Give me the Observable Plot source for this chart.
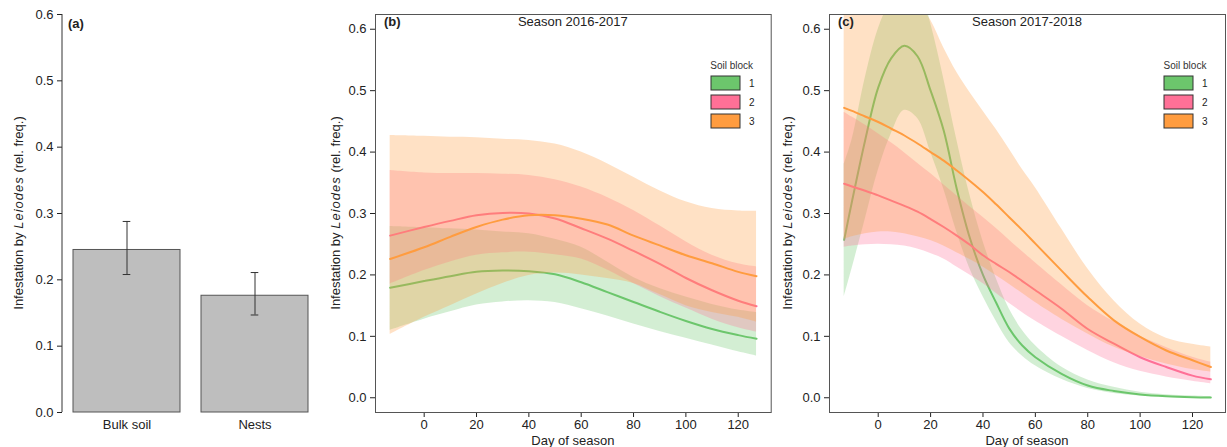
<!DOCTYPE html>
<html>
<head>
<meta charset="utf-8">
<script src="https://cdn.jsdelivr.net/npm/d3@7"></script>
<script src="https://cdn.jsdelivr.net/npm/@observablehq/plot@0.6"></script>
<style>
  html, body { margin: 0; padding: 0; background: #fff; }
  #wrap { position: relative; width: 1227px; height: 447px; overflow: hidden; font-family: "Liberation Sans", Arial, sans-serif; }
  .panel { position: absolute; top: 0; }
  .panel svg { overflow: visible; }
</style>
</head>
<body>
<div id="wrap">
  <div class="panel" id="pa" style="left:0px"></div>
  <div class="panel" id="pb" style="left:320px"></div>
  <div class="panel" id="pc" style="left:775px"></div>
</div>
<script>
// ---------------- data ----------------
const barCategories = ["Bulk soil", "Nests"];
const barMeans = [0.245, 0.176];
const barLower = [0.208, 0.147];
const barUpper = [0.288, 0.211];

const yTicks = [0, 0.1, 0.2, 0.3, 0.4, 0.5, 0.6];
const dayTicks = [0, 20, 40, 60, 80, 100, 120];
const blocks = ["1", "2", "3"];
const blockColors = ["#6cc66c", "#ff7097", "#ff9c3f"];

const panelTitles = ["Season 2016-2017", "Season 2017-2018"];
const panelLetters = ["(a)", "(b)", "(c)"];

// Season 2016-2017
const daysB = [-13, 0, 10, 20, 30, 40, 50, 60, 70, 80, 90, 100, 110, 120, 127];
const b1Fit = [0.179, 0.190, 0.198, 0.205, 0.207, 0.206, 0.201, 0.188, 0.172, 0.156, 0.140, 0.125, 0.112, 0.102, 0.096];
const b1Lo  = [0.110, 0.128, 0.140, 0.151, 0.156, 0.158, 0.155, 0.145, 0.133, 0.120, 0.108, 0.097, 0.086, 0.075, 0.068];
const b1Hi  = [0.279, 0.277, 0.275, 0.273, 0.270, 0.267, 0.258, 0.245, 0.221, 0.196, 0.178, 0.164, 0.152, 0.143, 0.139];
const b2Fit = [0.264, 0.278, 0.288, 0.297, 0.301, 0.300, 0.292, 0.276, 0.259, 0.239, 0.218, 0.195, 0.175, 0.158, 0.149];
const b2Lo  = [0.185, 0.207, 0.221, 0.232, 0.236, 0.237, 0.233, 0.226, 0.208, 0.186, 0.165, 0.146, 0.128, 0.114, 0.107];
const b2Hi  = [0.370, 0.366, 0.365, 0.365, 0.364, 0.362, 0.355, 0.343, 0.326, 0.305, 0.280, 0.254, 0.232, 0.218, 0.213];
const b3Fit = [0.226, 0.245, 0.262, 0.278, 0.290, 0.297, 0.297, 0.2915, 0.282, 0.264, 0.248, 0.232, 0.219, 0.205, 0.198];
const b3Lo  = [0.103, 0.131, 0.150, 0.169, 0.186, 0.199, 0.203, 0.200, 0.194, 0.186, 0.168, 0.150, 0.139, 0.131, 0.123];
const b3Hi  = [0.427, 0.4256, 0.424, 0.4235, 0.421, 0.419, 0.413, 0.400, 0.381, 0.359, 0.337, 0.319, 0.308, 0.304, 0.3035];

// Season 2017-2018
const daysC = [-13, -10, -5, 0, 5, 10, 15, 20, 25, 30, 35, 40, 45, 50, 55, 60, 70, 80, 90, 100, 110, 120, 127];
const c1Fit = [0.257, 0.320, 0.419, 0.505, 0.553, 0.573, 0.556, 0.500, 0.435, 0.340, 0.260, 0.200, 0.155, 0.113, 0.085, 0.066, 0.039, 0.020, 0.011, 0.0054, 0.0025, 0.0010, 0.0005];
const c1Lo  = [0.164, 0.210, 0.290, 0.370, 0.430, 0.468, 0.455, 0.400, 0.340, 0.270, 0.210, 0.165, 0.125, 0.090, 0.068, 0.052, 0.030, 0.015, 0.007, 0.003, 0.0015, 0.0007, 0.0004];
const c1Hi  = [0.380, 0.420, 0.520, 0.600, 0.650, 0.690, 0.680, 0.610, 0.520, 0.420, 0.330, 0.255, 0.195, 0.145, 0.110, 0.085, 0.050, 0.029, 0.017, 0.009, 0.005, 0.003, 0.002];
const c2Fit = [0.3485, 0.344, 0.337, 0.3295, 0.321, 0.3125, 0.303, 0.291, 0.278, 0.264, 0.249, 0.232, 0.218, 0.2047, 0.190, 0.175, 0.145, 0.112, 0.088, 0.066, 0.050, 0.036, 0.030];
const c2Lo  = [0.245, 0.247, 0.249, 0.250, 0.249, 0.247, 0.242, 0.235, 0.226, 0.213, 0.200, 0.186, 0.170, 0.154, 0.139, 0.125, 0.100, 0.077, 0.057, 0.043, 0.034, 0.027, 0.023];
const c2Hi  = [0.465, 0.457, 0.444, 0.430, 0.415, 0.399, 0.382, 0.365, 0.347, 0.329, 0.311, 0.294, 0.276, 0.257, 0.238, 0.220, 0.184, 0.150, 0.124, 0.100, 0.082, 0.066, 0.058];
const c3Fit = [0.472, 0.467, 0.458, 0.449, 0.438, 0.427, 0.414, 0.400, 0.386, 0.370, 0.353, 0.335, 0.315, 0.294, 0.273, 0.251, 0.207, 0.164, 0.126, 0.099, 0.077, 0.061, 0.050];
const c3Lo  = [0.258, 0.262, 0.267, 0.270, 0.270, 0.267, 0.262, 0.256, 0.247, 0.236, 0.225, 0.213, 0.199, 0.185, 0.170, 0.155, 0.128, 0.104, 0.0825, 0.067, 0.055, 0.046, 0.042];
const c3Hi  = [0.760, 0.750, 0.730, 0.710, 0.690, 0.670, 0.645, 0.615, 0.570, 0.530, 0.497, 0.467, 0.437, 0.405, 0.372, 0.342, 0.275, 0.210, 0.158, 0.120, 0.097, 0.087, 0.0825];

// ---------------- helpers ----------------
const rows = (days, fit, lo, hi) => days.map((d, i) => ({day: d, fit: fit[i], lo: lo[i], hi: hi[i]}));
const FONT = '"Liberation Sans", Arial, sans-serif';
const baseStyle = {fontFamily: FONT, fontSize: "13px", color: "#222", background: "transparent"};

function yTitle(svg, x, y) {
  const t = svg.append("text")
    .attr("transform", `translate(${x},${y}) rotate(-90)`)
    .attr("text-anchor", "middle").attr("dy", "0.35em")
    .attr("font-family", FONT).attr("font-size", 13).attr("fill", "#222")
    .style("white-space", "pre");
  t.append("tspan").text("Infestation by ");
  t.append("tspan").attr("font-style", "italic").attr("letter-spacing", "1").text("Leiodes");
  t.append("tspan").text(" (rel. freq.)");
}
function label(svg, x, y, txt, opts = {}) {
  return svg.append("text").attr("x", x).attr("y", y)
    .attr("font-family", FONT).attr("font-size", opts.size || 13)
    .attr("font-weight", opts.bold ? "bold" : "normal")
    .attr("text-anchor", opts.anchor || "start")
    .attr("fill", opts.fill || "#222").text(txt);
}
function legend(svg, boxX, titleX) {
  label(svg, titleX, 69, "Soil block", {size: 10, anchor: "middle", fill: "#333"});
  blocks.forEach((b, i) => {
    svg.append("rect").attr("x", boxX).attr("y", 76 + 19 * i).attr("width", 29).attr("height", 14)
      .attr("fill", blockColors[i]).attr("stroke", "#333").attr("stroke-width", 1);
    label(svg, boxX + 38, 76 + 19 * i + 11, b, {size: 10, anchor: "start", fill: "#222"});
  });
}

// ---------------- panel (a) ----------------
const barData = barCategories.map((c, i) => ({cat: c, mean: barMeans[i], lo: barLower[i], hi: barUpper[i]}));
const pa = Plot.plot({
  width: 330, height: 447,
  marginLeft: 62, marginRight: 11, marginTop: 14, marginBottom: 35,
  style: baseStyle,
  x: {type: "band", domain: barCategories, paddingInner: 0.1667, paddingOuter: 0.08, tickSize: 0, tickPadding: 7, label: null},
  y: {domain: [0, 0.6], ticks: yTicks, tickFormat: d3.format(".1f"), tickSize: 5, tickPadding: 4, label: null},
  marks: [
    Plot.barY(barData, {x: "cat", y: "mean", fill: "#bebebe", stroke: "#555", strokeWidth: 1}),
    Plot.ruleX(barData, {x: "cat", y1: "lo", y2: "hi", stroke: "#333", strokeWidth: 1}),
    Plot.tickY(barData, {x: "cat", y: "lo", stroke: "#333", insetLeft: 49.7, insetRight: 49.7}),
    Plot.tickY(barData, {x: "cat", y: "hi", stroke: "#333", insetLeft: 49.7, insetRight: 49.7})
  ]
});
document.getElementById("pa").appendChild(pa);
{
  const svg = d3.select(pa);
  const ys = pa.scale("y");
  svg.append("line").attr("x1", 62).attr("x2", 62)
    .attr("y1", ys.apply(0)).attr("y2", ys.apply(0.6)).attr("stroke", "#333");
  yTitle(svg, 18, 213);
  label(svg, 68, 28, panelLetters[0], {bold: true});
}

// ---------------- panels (b), (c) ----------------
function curvePanel(series, width, mL, mR) {
  const marks = [];
  series.forEach((r, k) => {
    marks.push(Plot.areaY(r, {x: "day", y1: "lo", y2: "hi", fill: blockColors[k], fillOpacity: 0.3, curve: "catmull-rom", clip: true}));
    marks.push(Plot.line(r, {x: "day", y: "fit", stroke: blockColors[k], strokeWidth: 2, curve: "catmull-rom", clip: true}));
  });
  marks.push(Plot.frame({stroke: "#555"}));
  return Plot.plot({
    width, height: 447,
    marginLeft: mL, marginRight: mR, marginTop: 14, marginBottom: 35,
    style: baseStyle,
    x: {domain: [-18.6, 132.6], ticks: dayTicks, tickFormat: d3.format("d"), tickSize: 5, tickPadding: 2, label: null},
    y: {domain: [-0.024, 0.624], ticks: yTicks, tickFormat: d3.format(".1f"), tickSize: 5, tickPadding: 4, label: null},
    marks
  });
}

const pb = curvePanel([rows(daysB, b1Fit, b1Lo, b1Hi), rows(daysB, b2Fit, b2Lo, b2Hi), rows(daysB, b3Fit, b3Lo, b3Hi)], 460, 55, 9.3);
document.getElementById("pb").appendChild(pb);
{
  const svg = d3.select(pb);
  const cx = 55 + (460 - 55 - 9.3) / 2;
  yTitle(svg, 15, 213);
  label(svg, 64, 26, panelLetters[1], {bold: true});
  label(svg, cx, 26, panelTitles[0], {anchor: "middle"});
  label(svg, cx, 445, "Day of season", {anchor: "middle"});
  legend(svg, 391, 411.7);
}

const pc = curvePanel([rows(daysC, c1Fit, c1Lo, c1Hi), rows(daysC, c2Fit, c2Lo, c2Hi), rows(daysC, c3Fit, c3Lo, c3Hi)], 452, 54, 2);
document.getElementById("pc").appendChild(pc);
{
  const svg = d3.select(pc);
  const cx = 54 + (452 - 54 - 2) / 2;
  yTitle(svg, 12, 213);
  label(svg, 63, 26, panelLetters[2], {bold: true});
  label(svg, cx, 26, panelTitles[1], {anchor: "middle"});
  label(svg, cx, 445, "Day of season", {anchor: "middle"});
  legend(svg, 389, 410);
}
</script>
</body>
</html>
